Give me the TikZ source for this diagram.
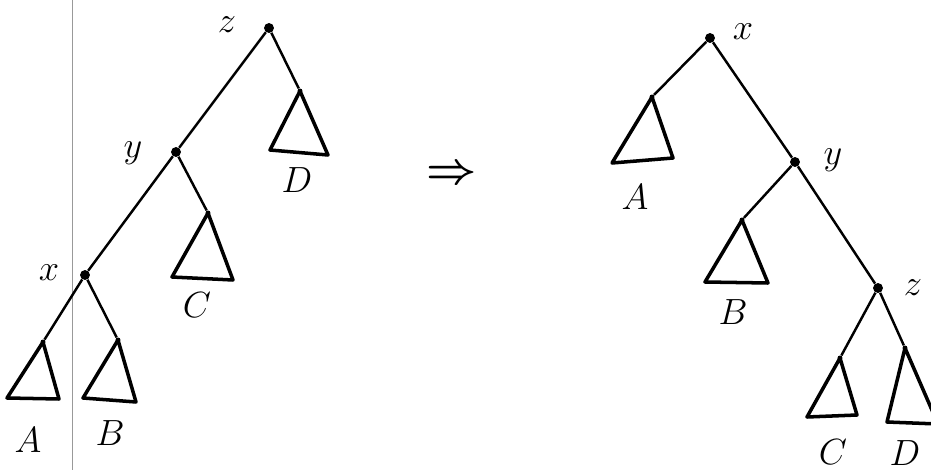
\documentclass[tikz,border=0pt]{standalone}
\usepackage{amsmath,amssymb}
\usetikzlibrary{positioning}
\tikzset{
  dot/.style={circle,fill=black,inner sep=2pt},
  sdot/.style={circle,fill=black,inner sep=1pt},
  edg/.style={line width=1.4pt},
  tri/.style={line width=2pt,line join=round},
  lbl/.style={font=\huge,inner sep=0pt},
}
\begin{document}
\begin{tikzpicture}[x=.02cm,y=-.02cm]
  \clip (0,0) rectangle (931,470);
  \draw[black!40,line width=.4pt] (72,0) -- (72,470);
  % before: x under y under z
  \node[dot] (zL) at (269,28){};
  \node[dot] (yL) at (176,152){};
  \node[dot] (xL) at (85,275){};
  \node[sdot] (aL) at (43,342){};
  \node[sdot] (bL) at (118,340){};
  \node[sdot] (cL) at (208,213){};
  \node[sdot] (dL) at (300,91){};
  \draw[edg] (zL) -- (yL) -- (xL);
  \draw[edg] (xL) -- (aL);
  \draw[edg] (xL) -- (bL);
  \draw[edg] (yL) -- (cL);
  \draw[edg] (zL) -- (dL);
  \draw[tri] (aL.center) -- (7,398) -- (59,399) -- cycle;
  \draw[tri] (bL.center) -- (83,398) -- (136,402) -- cycle;
  \draw[tri] (cL.center) -- (172,277) -- (233,280) -- cycle;
  \draw[tri] (dL.center) -- (270,150) -- (328,155) -- cycle;
  \node[lbl] (lzL) at (227,25){$z$};
  \node[lbl] (lyL) at (133,153){$y$};
  \node[lbl] (lxL) at (49,273){$x$};
  \node[lbl] (lA) at (28,440){$A$};
  \node[lbl] (lB) at (110,433){$B$};
  \node[lbl] (lC) at (197,305){$C$};
  \node[lbl] (lD) at (297,180){$D$};
  % the rotation
  \node[font=\Huge,inner sep=0pt] (arr) at (452,175){$\boldsymbol{\Rightarrow}$};
  % after: z under y under x
  \node[dot] (xR) at (710,38){};
  \node[dot] (yR) at (795,162){};
  \node[dot] (zR) at (878,288){};
  \node[sdot] (aR) at (652,97){};
  \node[sdot] (bR) at (742,220){};
  \node[sdot] (cR) at (840,358){};
  \node[sdot] (dR) at (905,348){};
  \draw[edg] (xR) -- (yR) -- (zR);
  \draw[edg] (xR) -- (aR);
  \draw[edg] (yR) -- (bR);
  \draw[edg] (zR) -- (cR);
  \draw[edg] (zR) -- (dR);
  \draw[tri] (aR.center) -- (612,163) -- (673,158) -- cycle;
  \draw[tri] (bR.center) -- (705,282) -- (768,283) -- cycle;
  \draw[tri] (cR.center) -- (807,417) -- (857,415) -- cycle;
  \draw[tri] (dR.center) -- (887,422) -- (938,424) -- cycle;
  \node[lbl] (lxR) at (743,32){$x$};
  \node[lbl] (lyR) at (833,160){$y$};
  \node[lbl] (lzR) at (913,288){$z$};
  \node[lbl] (lAR) at (635,197){$A$};
  \node[lbl] (lBR) at (733,312){$B$};
  \node[lbl] (lCR) at (833,452){$C$};
  \node[lbl] (lDR) at (905,453){$D$};
\end{tikzpicture}
\end{document}
